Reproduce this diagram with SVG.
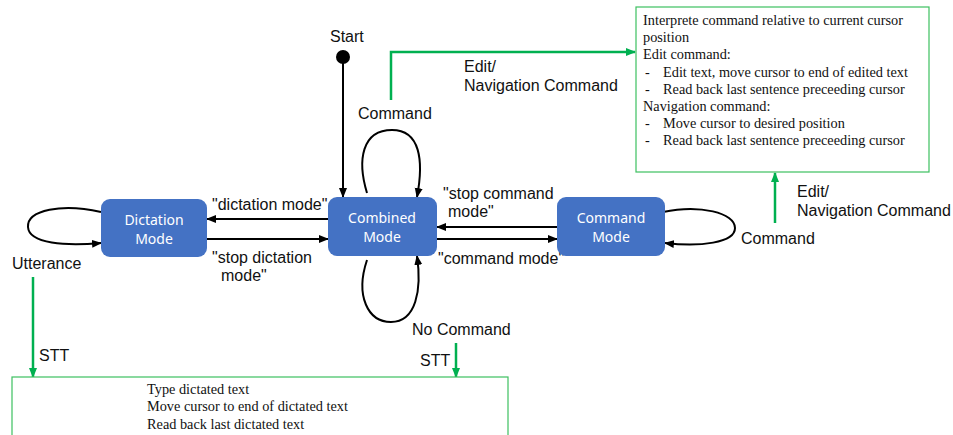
<svg xmlns="http://www.w3.org/2000/svg" width="953" height="435" viewBox="0 0 953 435">
  <style>
    .state { fill: #4472C4; }
    .state-label { font-family: "Noto Sans", "Open Sans", sans-serif; font-size: 14px; fill: #FFFFFF; text-anchor: middle; }
    .label { font-family: "Liberation Sans", Arial, sans-serif; font-size: 16px; fill: #111111; }
    .note { fill: #FFFFFF; stroke: #3CC060; stroke-width: 1.2; }
    .note-text { font-family: "Liberation Serif", "Times New Roman", serif; font-size: 14.3px; fill: #111111; }
    .edge { fill: none; stroke: #000000; stroke-width: 2; }
    .flow { fill: none; stroke: #00B050; stroke-width: 2.5; }
  </style>
  <defs>
    <marker id="arrow" markerUnits="userSpaceOnUse" markerWidth="10" markerHeight="10" viewBox="0 0 10 10" refX="9" refY="5" orient="auto">
      <path d="M0,1 L10,5 L0,9 Z" fill="#000000"/>
    </marker>
    <marker id="arrow-green" markerUnits="userSpaceOnUse" markerWidth="10" markerHeight="10" viewBox="0 0 10 10" refX="9" refY="5" orient="auto">
      <path d="M0,1 L10,5 L0,9 Z" fill="#00B050"/>
    </marker>
  </defs>

  <rect width="953" height="435" fill="#FFFFFF"/>

  <!-- connectors -->
  <g id="connectors">
    <!-- start -->
    <line class="edge" x1="343" y1="62" x2="343" y2="197" marker-end="url(#arrow)"/>
    <!-- self loops -->
    <path class="edge" d="M101,212 C62,203 27,210 28,227 C29,244 66,246 101,243" marker-end="url(#arrow)"/>
    <path class="edge" d="M367,193 C357,160 362,130 392,130 C420,130 424,160 417,197" marker-end="url(#arrow)"/>
    <path class="edge" d="M367,260 C355,296 368,322 391,322 C416,322 422,290 417,256" marker-end="url(#arrow)"/>
    <path class="edge" d="M663,212 C700,204 735,213 735,228 C735,243 700,247 665,243" marker-end="url(#arrow)"/>
    <!-- mode switches -->
    <line class="edge" x1="328" y1="219" x2="207" y2="219" marker-end="url(#arrow)"/>
    <line class="edge" x1="207" y1="239" x2="328" y2="239" marker-end="url(#arrow)"/>
    <line class="edge" x1="557" y1="227" x2="437" y2="227" marker-end="url(#arrow)"/>
    <line class="edge" x1="437" y1="239" x2="557" y2="239" marker-end="url(#arrow)"/>
    <!-- actions -->
    <path class="flow" d="M391,100 V52 H635" marker-end="url(#arrow-green)"/>
    <line class="flow" x1="775" y1="223" x2="775" y2="173" marker-end="url(#arrow-green)"/>
    <line class="flow" x1="33" y1="277" x2="33" y2="377" marker-end="url(#arrow-green)"/>
    <line class="flow" x1="456" y1="343" x2="456" y2="377" marker-end="url(#arrow-green)"/>
  </g>

  <!-- connector labels -->
  <g id="edge-labels">
    <text class="label" x="330" y="42">Start</text>
    <text class="label" x="464" y="72">Edit/</text>
    <text class="label" x="464" y="91">Navigation Command</text>
    <text class="label" x="358" y="119">Command</text>
    <text class="label" x="212" y="210">"dictation mode"</text>
    <text class="label" x="212" y="263">"stop dictation</text>
    <text class="label" x="221" y="281">mode"</text>
    <text class="label" x="443" y="199">"stop command</text>
    <text class="label" x="448" y="217">mode"</text>
    <text class="label" x="438" y="264">"command mode"</text>
    <text class="label" x="797" y="197">Edit/</text>
    <text class="label" x="797" y="216">Navigation Command</text>
    <text class="label" x="741" y="244">Command</text>
    <text class="label" x="12" y="269">Utterance</text>
    <text class="label" x="39" y="361">STT</text>
    <text class="label" x="412" y="335">No Command</text>
    <text class="label" x="420" y="366">STT</text>
  </g>

  <!-- start node -->
  <g id="start">
    <circle cx="343" cy="57" r="7" fill="#000000"/>
  </g>

  <!-- states -->
  <g id="dictation-mode">
    <rect class="state" x="101" y="199" width="106" height="58" rx="9"/>
    <text class="state-label" x="154" y="225">Dictation</text>
    <text class="state-label" x="154" y="244">Mode</text>
  </g>
  <g id="combined-mode">
    <rect class="state" x="328" y="197" width="109" height="59" rx="9"/>
    <text class="state-label" x="382" y="223">Combined</text>
    <text class="state-label" x="382" y="242">Mode</text>
  </g>
  <g id="command-mode">
    <rect class="state" x="557" y="197" width="108" height="59" rx="9"/>
    <text class="state-label" x="611" y="223">Command</text>
    <text class="state-label" x="611" y="242">Mode</text>
  </g>

  <!-- command handling -->
  <g id="command-actions">
    <rect class="note" x="636" y="7" width="293" height="165"/>
    <text class="note-text" x="643" y="25">Interprete command relative to current cursor</text>
    <text class="note-text" x="643" y="42">position</text>
    <text class="note-text" x="643" y="59">Edit command:</text>
    <text class="note-text" x="645" y="77">-</text>
    <text class="note-text" x="663" y="77">Edit text, move cursor to end of edited text</text>
    <text class="note-text" x="645" y="94">-</text>
    <text class="note-text" x="663" y="94">Read back last sentence preceeding cursor</text>
    <text class="note-text" x="643" y="111">Navigation command:</text>
    <text class="note-text" x="645" y="128">-</text>
    <text class="note-text" x="663" y="128">Move cursor to desired position</text>
    <text class="note-text" x="645" y="145">-</text>
    <text class="note-text" x="663" y="145">Read back last sentence preceeding cursor</text>
  </g>

  <!-- dictation handling -->
  <g id="dictation-actions">
    <rect class="note" x="12" y="377" width="496" height="70"/>
    <text class="note-text" x="147" y="394">Type dictated text</text>
    <text class="note-text" x="147" y="411">Move cursor to end of dictated text</text>
    <text class="note-text" x="147" y="429">Read back last dictated text</text>
  </g>
</svg>
